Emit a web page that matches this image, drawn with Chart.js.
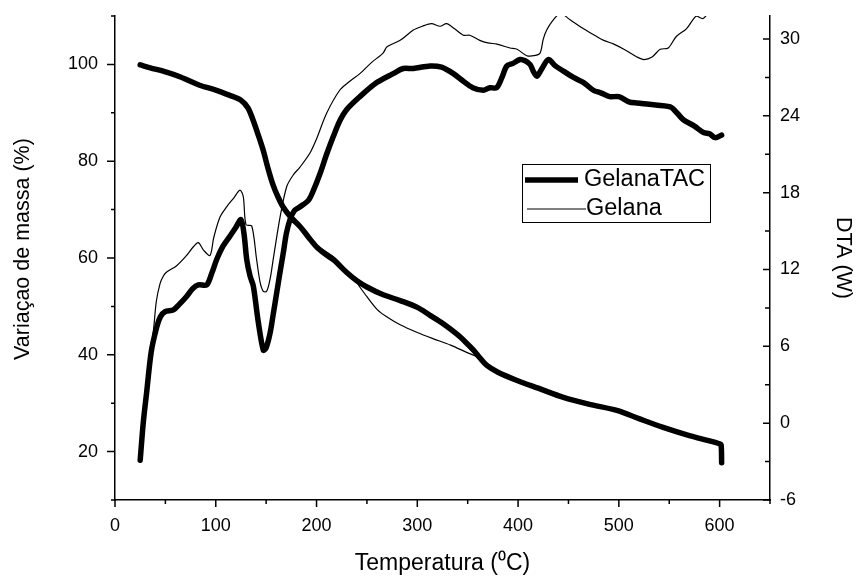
<!DOCTYPE html>
<html>
<head>
<meta charset="utf-8">
<script src="https://cdn.jsdelivr.net/npm/chart.js@4.4.1/dist/chart.umd.min.js"></script>
<style>
  html, body { margin: 0; padding: 0; background: #fff; }
  canvas { display: block; }
</style>
</head>
<body>
<canvas id="c" width="861" height="578"></canvas>
<script>
// ---- Data ----
// TG curve, GelanaTAC (thick), left axis: Variação de massa (%)
const tgTacT = [25, 35, 51, 65, 84, 100, 114, 125, 132, 137, 142, 147, 152, 157, 162, 167, 175, 184, 192, 200, 208, 217, 230, 240, 250, 265, 283, 300, 313, 325, 339, 348, 356, 362, 369, 380, 399, 420, 445, 470, 498, 520, 544, 570, 590, 600, 601.5, 602];
const tgTacM = [99.9, 99.3, 98.4, 97.4, 95.7, 94.7, 93.6, 92.6, 91.0, 88.5, 85.5, 82.3, 78.4, 75.0, 72.5, 70.5, 68.3, 66.4, 64.3, 62.3, 60.9, 59.6, 57.0, 55.3, 54.0, 52.5, 51.2, 49.8, 48.1, 46.5, 44.3, 42.6, 40.9, 39.4, 37.8, 36.4, 34.7, 33.1, 31.2, 29.8, 28.5, 26.8, 25.0, 23.3, 22.2, 21.6, 21.4, 17.7];
// TG curve, Gelana (thin), left axis
const tgGelT = [25, 51, 84, 114, 125, 137, 147, 157, 167, 184, 200, 217, 230, 237, 243, 250, 260, 270, 283, 300, 316, 333, 349, 362, 369, 380, 399, 445, 498, 544, 600];
const tgGelM = [100.0, 98.5, 95.9, 93.8, 92.9, 88.8, 82.6, 75.6, 71.0, 66.8, 62.7, 60.2, 57.4, 55.8, 54.0, 52.0, 49.4, 47.8, 46.2, 44.6, 43.3, 42.0, 40.5, 39.3, 37.9, 36.4, 34.7, 31.2, 28.5, 25.0, 21.6];
// DTA curve, GelanaTAC (thick), right axis: DTA (W)
const dtaTacT = [25, 28, 31.4, 36, 41.4, 45, 49.6, 58, 64, 71, 77, 82.7, 91, 96, 101, 107, 114, 120, 125, 128, 130.7, 134, 137.3, 142, 147.2, 150, 153.8, 157, 160.5, 164, 167, 170, 173.7, 178, 183.6, 191.9, 197, 203.5, 210, 216.7, 223, 230, 243, 259.7, 276, 286, 296, 312.6, 324, 335.8, 345.7, 355, 365.5, 372, 378.8, 384, 388.8, 395, 402, 407, 412, 415, 418.6, 423, 430, 437, 445, 455, 465, 474.7, 482, 491, 500, 510, 518, 530, 551, 558, 564, 575, 584, 590, 595.5, 602];
const dtaTacW = [-2.9, 0.0, 2.4, 5.6, 7.5, 8.3, 8.7, 8.85, 9.3, 9.9, 10.5, 10.8, 10.8, 11.7, 12.8, 13.8, 14.6, 15.3, 15.9, 14.8, 12.8, 11.5, 10.7, 8.0, 5.7, 5.9, 7.0, 8.5, 10.2, 11.9, 13.3, 14.8, 15.9, 16.6, 16.9, 17.4, 18.2, 19.5, 21.0, 22.4, 23.6, 24.5, 25.5, 26.6, 27.3, 27.7, 27.7, 27.9, 27.8, 27.3, 26.7, 26.2, 26.0, 26.2, 26.2, 27.0, 27.9, 28.1, 28.4, 28.3, 28.0, 27.5, 27.1, 27.6, 28.4, 27.9, 27.5, 27.0, 26.6, 26.0, 25.8, 25.5, 25.5, 25.1, 25.0, 24.9, 24.7, 24.2, 23.7, 23.2, 22.7, 22.6, 22.3, 22.5];
// DTA curve, Gelana (thin), right axis
const dtaGelT = [25, 28, 31.4, 36, 38.5, 41, 44.7, 48, 51.3, 61.2, 70, 78, 82.7, 88, 94.3, 98, 104.2, 110.8, 118, 124, 127.3, 130, 135.7, 140.5, 144, 147.2, 150.5, 154, 157, 163.8, 170.5, 177, 183.6, 193.5, 200, 210, 223, 233, 243, 255, 266, 270, 283, 296, 305, 314, 322.6, 329, 337, 345.7, 352, 362, 370, 379, 392, 399, 408.6, 416, 421.8, 425, 428.4, 434, 442, 451.6, 465, 478, 485, 495, 505, 518, 525, 533, 541, 549, 557, 567, 577, 583.6, 590];
const dtaGelW = [-2.9, 0.0, 2.4, 5.8, 7.5, 9.5, 10.9, 11.5, 11.8, 12.3, 13.0, 13.8, 14.1, 13.5, 13.1, 14.5, 16.1, 16.9, 17.6, 18.2, 17.7, 15.5, 15.4, 12.8, 11.0, 10.3, 10.3, 11.3, 12.8, 16.1, 18.5, 19.4, 20.0, 21.1, 22.2, 24.2, 26.0, 26.7, 27.3, 28.2, 28.9, 29.4, 29.9, 30.7, 31.0, 31.2, 31.0, 31.2, 30.8, 30.3, 30.3, 29.9, 29.7, 29.6, 29.3, 29.2, 28.7, 28.7, 28.9, 30.0, 30.7, 31.4, 32.0, 31.5, 30.8, 30.2, 29.9, 29.6, 29.2, 28.6, 28.4, 28.6, 29.2, 29.3, 30.2, 30.8, 31.8, 31.6, 32.2];

// Axis tick labels
const xTicks = [0, 100, 200, 300, 400, 500, 600];
const yLeftTicks = [20, 40, 60, 80, 100];
const yRightTicks = [-6, 0, 6, 12, 18, 24, 30];
// Legend entries
const legendNames = ['GelanaTAC', 'Gelana'];

const FONT = "'Liberation Sans', Arial, Helvetica, sans-serif";
Chart.defaults.font.family = FONT;
Chart.defaults.color = '#000';

const zip = (xs, ys) => xs.map((x, i) => ({ x: x, y: ys[i] }));
const THICK = 5.5, THIN = 1.2;

function ds(label, xs, ys, axis, w) {
  return {
    label: label, data: zip(xs, ys), yAxisID: axis,
    borderColor: '#000', backgroundColor: '#000',
    borderWidth: w, pointRadius: 0, pointHoverRadius: 0,
    tension: 0.3, fill: false,
    borderCapStyle: 'round', borderJoinStyle: 'round'
  };
}

const minorTicks = {
  id: 'minorTicks',
  afterDraw(chart) {
    const ctx = chart.ctx;
    const { x, y, y1 } = chart.scales;
    const a = chart.chartArea;
    ctx.save();
    ctx.strokeStyle = '#000';
    ctx.lineWidth = 1.5;
    ctx.beginPath();
    for (let v = 0; v <= 650; v += 50) {
      const px = x.getPixelForValue(v);
      const len = v % 100 === 0 ? 7 : 4;
      ctx.moveTo(px, a.bottom); ctx.lineTo(px, a.bottom + len);
    }
    for (let v = 10; v <= 110; v += 10) {
      const py = y.getPixelForValue(v);
      const len = yLeftTicks.includes(v) ? 8 : 4;
      ctx.moveTo(a.left, py); ctx.lineTo(a.left - len, py);
    }
    for (let v = -6; v <= 30; v += 3) {
      const py = y1.getPixelForValue(v);
      const len = yRightTicks.includes(v) ? 7 : 5;
      ctx.moveTo(a.right, py); ctx.lineTo(a.right - len, py);
    }
    ctx.stroke();
    ctx.restore();
  }
};

const boxLegend = {
  id: 'boxLegend',
  afterDraw(chart) {
    const ctx = chart.ctx;
    ctx.save();
    ctx.strokeStyle = '#000';
    ctx.lineWidth = 1;
    ctx.strokeRect(522.5, 164.5, 188, 58);
    ctx.lineCap = 'butt';
    ctx.beginPath();
    ctx.lineWidth = THICK;
    ctx.moveTo(525, 180); ctx.lineTo(578, 180);
    ctx.stroke();
    ctx.beginPath();
    ctx.lineWidth = THIN;
    ctx.moveTo(527, 209); ctx.lineTo(586, 209);
    ctx.stroke();
    ctx.fillStyle = '#000';
    ctx.font = "23.5px " + FONT;
    ctx.textBaseline = 'middle';
    ctx.textAlign = 'left';
    ctx.fillText(legendNames[0], 584, 180);
    ctx.fillText(legendNames[1], 586, 209);
    ctx.restore();
  }
};

const noVPad = s => { s.paddingTop = 0; s.paddingBottom = 0; };

new Chart(document.getElementById('c'), {
  type: 'line',
  data: {
    datasets: [
      ds('TG ' + legendNames[1], tgGelT, tgGelM, 'y', THIN),
      ds('DTA ' + legendNames[1], dtaGelT, dtaGelW, 'y1', THIN),
      ds('TG ' + legendNames[0], tgTacT, tgTacM, 'y', THICK),
      ds('DTA ' + legendNames[0], dtaTacT, dtaTacW, 'y1', THICK)
    ]
  },
  options: {
    responsive: false,
    animation: false,
    events: [],
    layout: { padding: { top: 16, left: 0, right: 0, bottom: 0 } },
    plugins: { legend: { display: false }, tooltip: { enabled: false } },
    scales: {
      x: {
        type: 'linear', min: 0, max: 650,
        afterBuildTicks: s => { s.ticks = xTicks.map(v => ({ value: v })); },
        afterFit: s => { s.height = 78; s.paddingLeft = 0; s.paddingRight = 0; },
        grid: { display: false, drawTicks: false },
        border: { display: true, color: '#000', width: 1.5 },
        ticks: { padding: 15, font: { size: 18 }, color: '#000', maxRotation: 0, autoSkip: false },
        title: { display: true, text: 'Temperatura (\u2070C)', font: { size: 23 }, color: '#000', padding: { top: 0, bottom: 1 } }
      },
      y: {
        type: 'linear', position: 'left', min: 10, max: 110,
        afterBuildTicks: s => { s.ticks = yLeftTicks.map(v => ({ value: v })); },
        afterFit: s => { s.width = 115; noVPad(s); },
        grid: { display: false, drawTicks: false },
        border: { display: true, color: '#000', width: 1.5 },
        ticks: { padding: 17, font: { size: 18 }, color: '#000', autoSkip: false },
        title: { display: true, text: '   Variaçao de massa (%)', font: { size: 21.5 }, color: '#000', padding: { top: 10, bottom: 0 } }
      },
      y1: {
        type: 'linear', position: 'right', min: -6, max: 31.8,
        afterBuildTicks: s => { s.ticks = yRightTicks.map(v => ({ value: v })); },
        afterFit: s => { s.width = 91; noVPad(s); },
        grid: { display: false, drawTicks: false },
        border: { display: true, color: '#000', width: 1.5 },
        ticks: { padding: 10, font: { size: 18 }, color: '#000', autoSkip: false },
        title: { display: true, text: 'DTA (W)', font: { size: 21.5 }, color: '#000', padding: { top: 5, bottom: 0 } }
      }
    }
  },
  plugins: [minorTicks, boxLegend]
});
</script>
</body>
</html>
